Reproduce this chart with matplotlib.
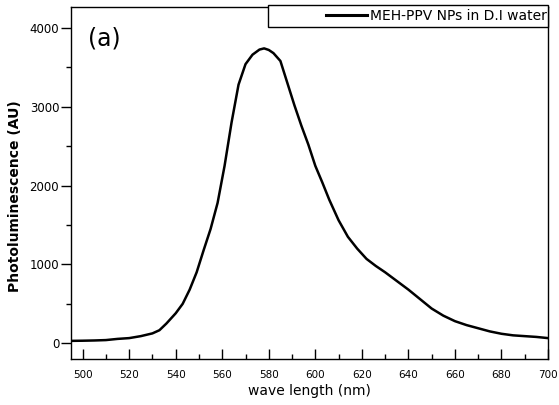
import numpy as np
import matplotlib
matplotlib.use('Agg')
import matplotlib.pyplot as plt
from matplotlib.patches import Rectangle
from matplotlib.ticker import MultipleLocator

# PL spectrum
wavelength = [495, 500, 505, 510, 515, 520, 525, 530, 533, 536, 540, 543, 546, 549,
              552, 555, 558, 561, 564, 567, 570, 573, 576, 578, 580, 582, 585, 588,
              591, 594, 597, 600, 603, 606, 610, 614, 618, 622, 626, 630, 635, 640,
              645, 650, 655, 660, 665, 670, 675, 680, 685, 690, 695, 700]
intensity = [30, 32, 35, 40, 55, 65, 90, 125, 165, 250, 380, 500, 680, 900,
             1180, 1450, 1780, 2250, 2800, 3280, 3540, 3660, 3725, 3740, 3720, 3680, 3580, 3300,
             3020, 2760, 2520, 2250, 2040, 1820, 1560, 1350, 1200, 1070, 980, 900, 790, 680,
             560, 440, 350, 280, 230, 190, 150, 120, 100, 90, 80, 65]
series_name = 'MEH-PPV NPs in D.I water'

plt.rcParams['font.family'] = ['DejaVu Sans']

fig = plt.figure(figsize=(5.59, 4.05), dpi=100)
ax = fig.add_axes([71/559, 1-359/405, (548-71)/559, (359-7)/405])

line, = ax.plot(wavelength, intensity, color='black', lw=1.8, label=series_name)

ax.set_xlim(495, 700)
ax.set_ylim(-200, 4265)
ax.xaxis.set_major_locator(MultipleLocator(20))
ax.xaxis.set_minor_locator(MultipleLocator(10))
ax.yaxis.set_major_locator(MultipleLocator(1000))
ax.yaxis.set_minor_locator(MultipleLocator(500))
ax.tick_params(axis='x', which='major', direction='in', length=7, width=1, labelsize=7.5, pad=8)
ax.tick_params(axis='x', which='minor', direction='in', length=3.5, width=1)
ax.tick_params(axis='y', which='major', direction='out', length=7, width=1, labelsize=8.5, pad=1.5)
ax.tick_params(axis='y', which='minor', direction='out', length=3.5, width=1)
for s in ax.spines.values():
    s.set_linewidth(1)

ax.set_xlabel('wave length (nm)', fontsize=10, labelpad=3)
ax.set_ylabel('Photoluminescence (AU)', fontsize=10, fontweight='bold')
ax.yaxis.set_label_coords(-0.102, 0.463)

ax.text(0.035, 0.945, '(a)', transform=ax.transAxes, fontsize=17, va='top', ha='left')

# legend box sitting over the top spine
box = Rectangle((268/559, 1-27/405), 280/559, 22/405, transform=fig.transFigure,
                facecolor='white', edgecolor='black', lw=1, zorder=3)
fig.add_artist(box)
leg = fig.legend([line], [series_name], loc='center right',
                 bbox_to_anchor=(547/559, 1-16/405), borderaxespad=0, borderpad=0,
                 frameon=False, fontsize=10, handlelength=2.9, handletextpad=0.25)
leg.set_zorder(4)
leg.get_lines()[0].set_linewidth(2.2)

plt.savefig('out.png', dpi=100)
